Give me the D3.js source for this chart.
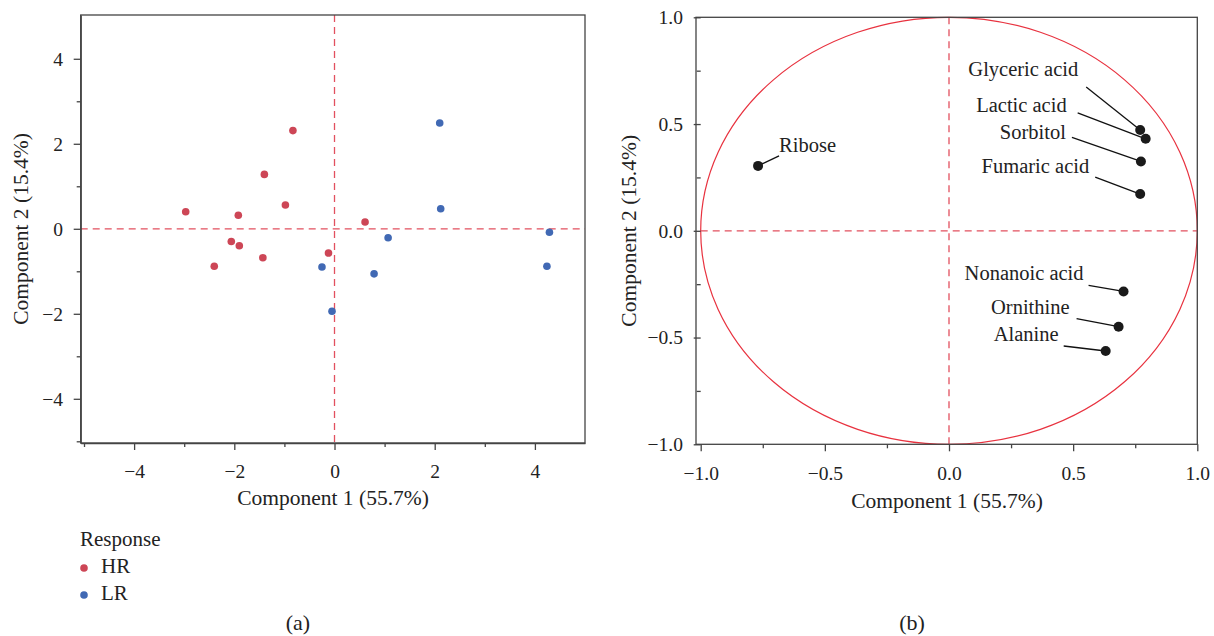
<!DOCTYPE html>
<html>
<head>
<meta charset="utf-8">
<title>PCA score and loading plots</title>
<style>
  body { margin: 0; background: #fff; }
  svg text { font-family: "Liberation Serif", "DejaVu Serif", serif; fill: #222; }
</style>
</head>
<body>
<svg id="chart"></svg>
<script src="https://d3js.org/d3.v7.min.js"></script>
<script>
// score plot data (a)
const hrX = [-2.97, -2.40, -2.06, -1.90, -1.92, -1.43, -1.40, -0.98, -0.83, -0.12, 0.61];
const hrY = [0.40, -0.88, -0.30, -0.40, 0.32, -0.68, 1.28, 0.56, 2.31, -0.57, 0.16];
const lrX = [-0.25, -0.05, 0.79, 1.07, 2.10, 2.12, 4.29, 4.24];
const lrY = [-0.90, -1.94, -1.06, -0.21, 2.49, 0.47, -0.08, -0.88];
const groups = ["HR", "LR"];
const scoreTicks = [-4, -2, 0, 2, 4];

// loading plot data (b)
const names = ["Glyceric acid", "Lactic acid", "Sorbitol", "Fumaric acid",
               "Nonanoic acid", "Ornithine", "Alanine", "Ribose"];
const loadX = [0.770, 0.792, 0.773, 0.770, 0.703, 0.683, 0.631, -0.769];
const loadY = [0.472, 0.431, 0.325, 0.172, -0.284, -0.449, -0.563, 0.304];
const loadTicks = [-1.0, -0.5, 0.0, 0.5, 1.0];

// label placement (pixel offsets from each point): text anchor and leader start
const labelPos = {
  "Glyceric acid": { tx: -62, ty: -54, lx: -54, ly: -43, anchor: "end" },
  "Lactic acid":   { tx: -79, ty: -27, lx: -68, ly: -26, anchor: "end" },
  "Sorbitol":      { tx: -75, ty: -22, lx: -69, ly: -24, anchor: "end" },
  "Fumaric acid":  { tx: -51, ty: -21, lx: -45, ly: -17, anchor: "end" },
  "Nonanoic acid": { tx: -40, ty: -11, lx: -35, ly: -6, anchor: "end" },
  "Ornithine":     { tx: -49, ty: -13, lx: -42, ly: -8, anchor: "end" },
  "Alanine":       { tx: -47, ty: -10, lx: -42, ly: -5, anchor: "end" },
  "Ribose":        { tx: 21, ty: -14, lx: 21, ly: -10, anchor: "start" }
};

const width = 1214, height = 636;
const colors = { HR: "#cd4656", LR: "#4169b4" };
const refColor = "#e2505f";
const circleColor = "#e8323f";
const axisColor = "#444";

const svg = d3.select("#chart").attr("width", width).attr("height", height);

function frame(g, x, y) {
  const [x0, x1] = x.range();
  const [y0, y1] = y.range();
  g.append("rect")
    .attr("x", x0).attr("y", y1)
    .attr("width", x1 - x0).attr("height", y0 - y1)
    .attr("fill", "none").attr("stroke", axisColor).attr("stroke-width", 1.3);
}

function axes(g, x, y, xMajor, xMinor, yMajor, yMinor, fmt) {
  const [x0] = x.range();
  const [y0] = y.range();
  const xa = g.append("g").attr("transform", `translate(0,${y0})`)
    .call(d3.axisBottom(x).tickValues(xMajor).tickFormat(fmt).tickSize(7).tickSizeOuter(0));
  g.append("g").attr("transform", `translate(0,${y0})`)
    .call(d3.axisBottom(x).tickValues(xMinor).tickFormat("").tickSize(4).tickSizeOuter(0))
    .call(a => a.select(".domain").remove());
  const ya = g.append("g").attr("transform", `translate(${x0},0)`)
    .call(d3.axisLeft(y).tickValues(yMajor).tickFormat(fmt).tickSize(7).tickSizeOuter(0));
  g.append("g").attr("transform", `translate(${x0},0)`)
    .call(d3.axisLeft(y).tickValues(yMinor).tickFormat("").tickSize(4).tickSizeOuter(0))
    .call(a => a.select(".domain").remove());
  g.selectAll(".tick line").attr("stroke", axisColor).attr("stroke-width", 1.3);
  g.selectAll(".domain").attr("stroke", axisColor).attr("stroke-width", 1.3);
  xa.selectAll("text").attr("font-size", 19.5).attr("dy", "1.3em")
    .style("font-family", "Liberation Serif");
  ya.selectAll("text").attr("font-size", 19.5).attr("dx", "-0.4em")
    .style("font-family", "Liberation Serif");
}

function refLines(g, x, y) {
  g.append("line")
    .attr("x1", x(0)).attr("x2", x(0)).attr("y1", y.range()[1]).attr("y2", y.range()[0])
    .attr("stroke", refColor).attr("stroke-width", 1.3).attr("stroke-dasharray", "7,5");
  g.append("line")
    .attr("x1", x.range()[0]).attr("x2", x.range()[1]).attr("y1", y(0)).attr("y2", y(0))
    .attr("stroke", refColor).attr("stroke-width", 1.3).attr("stroke-dasharray", "7,5");
}

function titles(g, x, y, cx, baseline, yTitleX) {
  g.append("text")
    .attr("x", cx).attr("y", baseline)
    .attr("text-anchor", "middle").attr("font-size", 21.5)
    .text("Component 1 (55.7%)");
  const cy = (y.range()[0] + y.range()[1]) / 2;
  g.append("text")
    .attr("transform", `translate(${yTitleX},${cy}) rotate(-90)`)
    .attr("text-anchor", "middle").attr("font-size", 21.5)
    .text("Component 2 (15.4%)");
}

// ---------- (a) score plot ----------
const xA = d3.scaleLinear().domain([-5.066, 5.0]).range([80.7, 585]);
const yA = d3.scaleLinear().domain([-5.04, 5.03]).range([443, 15]);
const gA = svg.append("g");

refLines(gA, xA, yA);
frame(gA, xA, yA);
axes(gA, xA, yA, scoreTicks, [-5, -3, -1, 1, 3], scoreTicks, [-5, -3, -1, 1, 3], d3.format("d"));
titles(gA, xA, yA, 333, 505, 28);

const scores = [
  ...hrX.map((v, i) => ({ x: v, y: hrY[i], g: "HR" })),
  ...lrX.map((v, i) => ({ x: v, y: lrY[i], g: "LR" }))
];
gA.selectAll(".score")
  .data(scores)
  .enter().append("circle")
  .attr("class", "score")
  .attr("cx", d => xA(d.x))
  .attr("cy", d => yA(d.y))
  .attr("r", 3.8)
  .attr("fill", d => colors[d.g]);

// legend
const legend = svg.append("g").attr("transform", "translate(80,546)");
legend.append("text").attr("x", 0).attr("y", 0).attr("font-size", 21).text("Response");
const items = legend.selectAll(".item")
  .data(groups)
  .enter().append("g")
  .attr("class", "item")
  .attr("transform", (d, i) => `translate(0,${27 * (i + 1)})`);
items.append("circle").attr("cx", 4).attr("cy", -5).attr("r", 3.8).attr("fill", d => colors[d]);
items.append("text").attr("x", 21).attr("y", 0).attr("font-size", 21).text(d => d);

svg.append("text").attr("x", 298).attr("y", 630)
  .attr("text-anchor", "middle").attr("font-size", 22).text("(a)");

// ---------- (b) loading plot ----------
const xB = d3.scaleLinear().domain([-1, 1]).range([700.7, 1197.3]);
const yB = d3.scaleLinear().domain([-1, 1]).range([444.3, 17.3]);
const gB = svg.append("g");

// correlation circle
gB.append("ellipse")
  .attr("cx", xB(0)).attr("cy", yB(0))
  .attr("rx", xB(1) - xB(0)).attr("ry", yB(0) - yB(1))
  .attr("fill", "none").attr("stroke", circleColor).attr("stroke-width", 1.2);

refLines(gB, xB, yB);

const xBframe = xB.copy().domain([xB.invert(696), 1]).range([696, 1197.3]);
frame(gB, xBframe, yB);
axes(gB, xB, yB, loadTicks, [-0.75, -0.25, 0.25, 0.75], loadTicks, [-0.75, -0.25, 0.25, 0.75], d3.format(".1f"));
gB.selectAll(".domain").remove();
titles(gB, xB, yB, 947, 508, 636);

const loads = names.map((n, i) => ({ name: n, x: loadX[i], y: loadY[i] }));

gB.selectAll(".leader")
  .data(loads)
  .enter().append("line")
  .attr("class", "leader")
  .attr("x1", d => xB(d.x) + labelPos[d.name].lx)
  .attr("y1", d => yB(d.y) + labelPos[d.name].ly)
  .attr("x2", d => xB(d.x))
  .attr("y2", d => yB(d.y))
  .attr("stroke", "#111").attr("stroke-width", 1.3);

gB.selectAll(".load")
  .data(loads)
  .enter().append("circle")
  .attr("class", "load")
  .attr("cx", d => xB(d.x))
  .attr("cy", d => yB(d.y))
  .attr("r", 5)
  .attr("fill", "#1a1a1a");

gB.selectAll(".lab")
  .data(loads)
  .enter().append("text")
  .attr("class", "lab")
  .attr("x", d => xB(d.x) + labelPos[d.name].tx)
  .attr("y", d => yB(d.y) + labelPos[d.name].ty)
  .attr("text-anchor", d => labelPos[d.name].anchor)
  .attr("font-size", 20.5)
  .text(d => d.name);

svg.append("text").attr("x", 912).attr("y", 630)
  .attr("text-anchor", "middle").attr("font-size", 22).text("(b)");
</script>
</body>
</html>
